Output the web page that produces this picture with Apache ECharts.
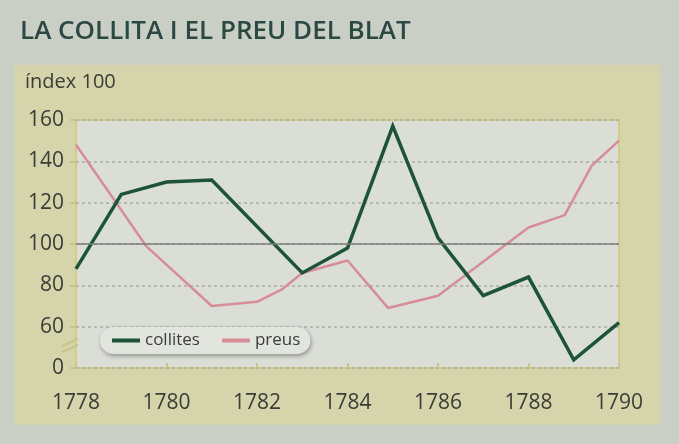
<!DOCTYPE html>
<html>
<head>
<meta charset="utf-8">
<script src="https://cdn.jsdelivr.net/npm/echarts@6/dist/echarts.min.js"></script>
<style>
html,body{margin:0;padding:0;background:#c9cfc5;}
#c{width:679px;height:444px;}
</style>
</head>
<body>
<div id="c"></div>
<script>
// Data
var title = 'LA COLLITA I EL PREU DEL BLAT';
var yAxisName = 'índex 100';
var collitesYears = [1778, 1779, 1780, 1781, 1783, 1784, 1785, 1786, 1787, 1788, 1789, 1790];
var collitesValues = [88, 124, 130, 131, 86, 98, 157, 103, 75, 84, 44, 62];
var preusYears = [1778, 1779.55, 1781, 1782, 1782.55, 1783, 1784, 1784.9, 1786, 1788, 1788.8, 1789.4, 1790];
var preusValues = [148, 99, 70, 72, 78, 86, 92, 69, 75, 108, 114, 138, 150];
var yTicks = [40, 60, 80, 100, 120, 140, 160];
var yTickLabels = ['0', '60', '80', '100', '120', '140', '160'];
var xTicks = [1778, 1780, 1782, 1784, 1786, 1788, 1790];

function pairs(xs, ys){ return xs.map(function(x,i){ return [x, ys[i]]; }); }

var chart = echarts.init(document.getElementById('c'), null, {renderer:'canvas'});
var font = '"Open Sans", "Noto Sans", sans-serif';
chart.setOption({
  backgroundColor: '#c9cfc5',
  animation: false,
  title: {
    text: title, left: 15, top: 14,
    textStyle: {fontFamily: font, fontSize: 26, fontWeight: 600, color: '#2b4843'}
  },
  graphic: [
    {type:'rect', shape:{x:14, y:65, width:646, height:360}, style:{fill:'#d6d4ab'}, z:-10},
    {type:'text', left: 25, top: 72, style:{text: yAxisName, font: '20px ' + font, fill:'#3a3d38'}},
    {type:'polyline', shape:{points:[[62,346],[78,339]]}, style:{stroke:'#c9c48a', lineWidth:2}},
    {type:'polyline', shape:{points:[[62,352],[78,345]]}, style:{stroke:'#c9c48a', lineWidth:2}}
  ],
  grid: {
    left: 76, right: 60, top: 120, bottom: 76,
    show: true, backgroundColor: '#dadeD7', borderColor: '#d3cb8a', borderWidth: 2
  },
  legend: {
    left: 100, top: 327,
    data: [{name: 'collites', icon: 'rect'}, {name: 'preus', icon: 'rect'}],
    backgroundColor: '#e2e4de',
    borderRadius: 14,
    padding: [5, 10, 5, 12],
    shadowColor: 'rgba(60,60,50,0.45)', shadowBlur: 4, shadowOffsetX: 1, shadowOffsetY: 2,
    itemWidth: 28, itemHeight: 4, itemGap: 22,
    textStyle: {fontFamily: font, fontSize: 17, color: '#3a3d38'}
  },
  xAxis: {
    type: 'value', min: 1778, max: 1790, interval: 2,
    axisLine: {show: false},
    axisTick: {show: true, length: 5, inside: true, lineStyle: {color: '#c9c48a', width: 2}},
    splitLine: {show: false},
    axisLabel: {
      margin: 25, fontFamily: font, fontSize: 21, color: '#3a3d38',
      formatter: function(v){ return xTicks.indexOf(v) >= 0 ? String(v) : ''; }
    }
  },
  yAxis: {
    type: 'value', min: 40, max: 160, interval: 20,
    axisLine: {show: false},
    axisTick: {show: true, length: 6, lineStyle: {color: '#c9c48a', width: 2}},
    splitLine: {show: true, lineStyle: {color: '#a9ada6', width: 1.5, type: [3, 3]}},
    axisLabel: {
      margin: 12, fontFamily: font, fontSize: 21, color: '#3a3d38',
      formatter: function(v){ var i = yTicks.indexOf(v); return i >= 0 ? yTickLabels[i] : ''; }
    }
  },
  series: [
    {
      name: 'collites', type: 'line', data: pairs(collitesYears, collitesValues),
      symbol: 'none', z: 3,
      lineStyle: {color: '#1d5336', width: 3.5, join: 'miter'},
      itemStyle: {color: '#1d5336'},
      markLine: {
        silent: true, symbol: 'none', label: {show: false},
        lineStyle: {color: '#7b7d78', width: 1.5, type: 'solid'},
        data: [{yAxis: 100}]
      }
    },
    {
      name: 'preus', type: 'line', data: pairs(preusYears, preusValues),
      symbol: 'none', z: 2,
      lineStyle: {color: '#d78d97', width: 2.5},
      itemStyle: {color: '#d78d97'}
    }
  ]
});
</script>
</body>
</html>
